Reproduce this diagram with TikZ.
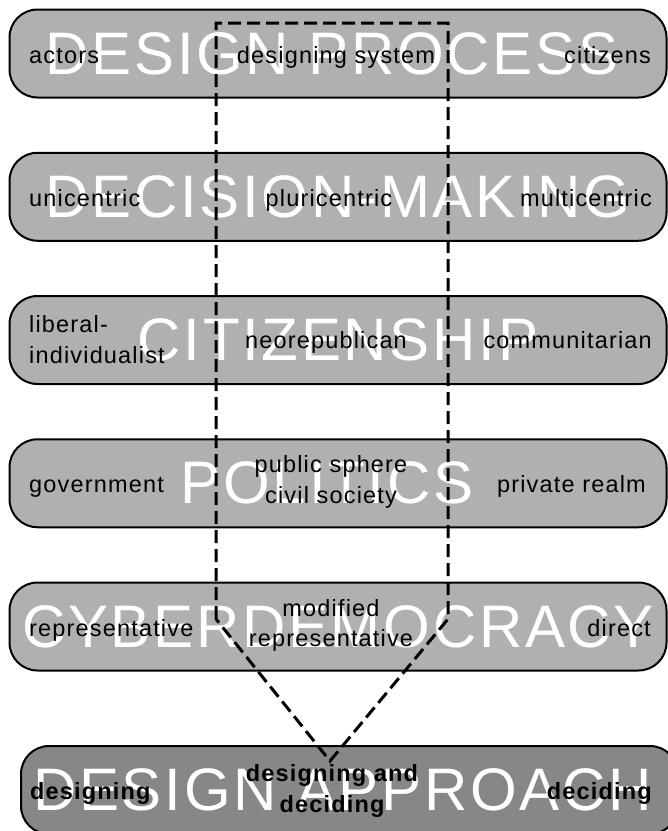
\documentclass[tikz,border=0pt]{standalone}
\usepackage{fontspec}
\setmainfont{Liberation Sans}
\newfontfamily\bigfont[LetterSpace=4.5]{Liberation Sans}
\newfontfamily\smallfont[LetterSpace=5]{Liberation Sans}
\usetikzlibrary{shapes}
\definecolor{barfill}{gray}{0.69}
\definecolor{darkfill}{gray}{0.53}

\begin{document}
\begin{tikzpicture}[x=1pt,y=-1pt]
	\tikzstyle{bar}=[rectangle,rounded corners=28pt,draw,line width=2pt,fill=barfill,minimum width=657pt,minimum height=88pt,inner sep=0pt,text=white,font=\bigfont\fontsize{60}{60}\selectfont]
	\tikzstyle{darkbar}=[bar,fill=darkfill]
	\tikzstyle{term}=[inner sep=0pt,align=center,font=\smallfont\fontsize{23.5}{30.5}\selectfont]
	\tikzstyle{boldterm}=[term,font=\smallfont\bfseries\fontsize{23.5}{30.5}\selectfont]
	\tikzstyle{outline}=[line width=3pt,dash pattern=on 13pt off 6pt]
	\useasboundingbox (0,0) rectangle (668,831);
	\clip (0,0) rectangle (668,831);

	\node[bar] (process) at (338,53.5) {\hspace*{-12pt}DESIGN PROCESS};
	\node[bar] (decision) at (338,196.75) {DECISION-MAKING};
	\node[bar] (citizenship) at (338,340) {CITIZENSHIP};
	\node[bar] (politics) at (338,483.25) {\hspace*{-22pt}POLITICS};
	\node[bar] (democracy) at (338,626.5) {CYBERDEMOCRACY};
	\node[darkbar] (approach) at (349.5,790) {\hspace*{-14pt}DESIGN APPROACH};

	\node[term,anchor=base west] (actors) at (29,63) {actors};
	\node[term,anchor=base] (system) at (336,63) {designing system};
	\node[term,anchor=base east] (citizens) at (651,63) {citizens};

	\node[term,anchor=base west] (unicentric) at (29,206) {unicentric};
	\node[term,anchor=base] (pluricentric) at (329,206) {pluricentric};
	\node[term,anchor=base east] (multicentric) at (652,206) {multicentric};

	\node[term,align=left,anchor=west] (liberal) at (29,339.5) {liberal-\\individualist};
	\node[term,anchor=base] (neorepublican) at (326,348) {neorepublican};
	\node[term,anchor=base east] (communitarian) at (652,348) {communitarian};

	\node[term,anchor=base west] (government) at (29,492) {government};
	\node[term] (publicsphere) at (331,481.7) {public sphere\\civil society};
	\node[term,anchor=base east] (privaterealm) at (646,492) {private realm};

	\node[term,anchor=base west] (representative) at (29,636) {representative};
	\node[term] (modified) at (331,625.5) {modified\\representative};
	\node[term,anchor=base east] (direct) at (651,636) {direct};

	\node[boldterm,anchor=base west] (designing) at (30,799.5) {designing};
	\node[boldterm] (both) at (332,791) {designing and\\deciding};
	\node[boldterm,anchor=base east] (deciding) at (652,799.5) {deciding};

	\draw[outline] (216,619) -- (216,23) -- (448,23) -- (448,619) -- (330,761) -- cycle;
\end{tikzpicture}
\end{document}
